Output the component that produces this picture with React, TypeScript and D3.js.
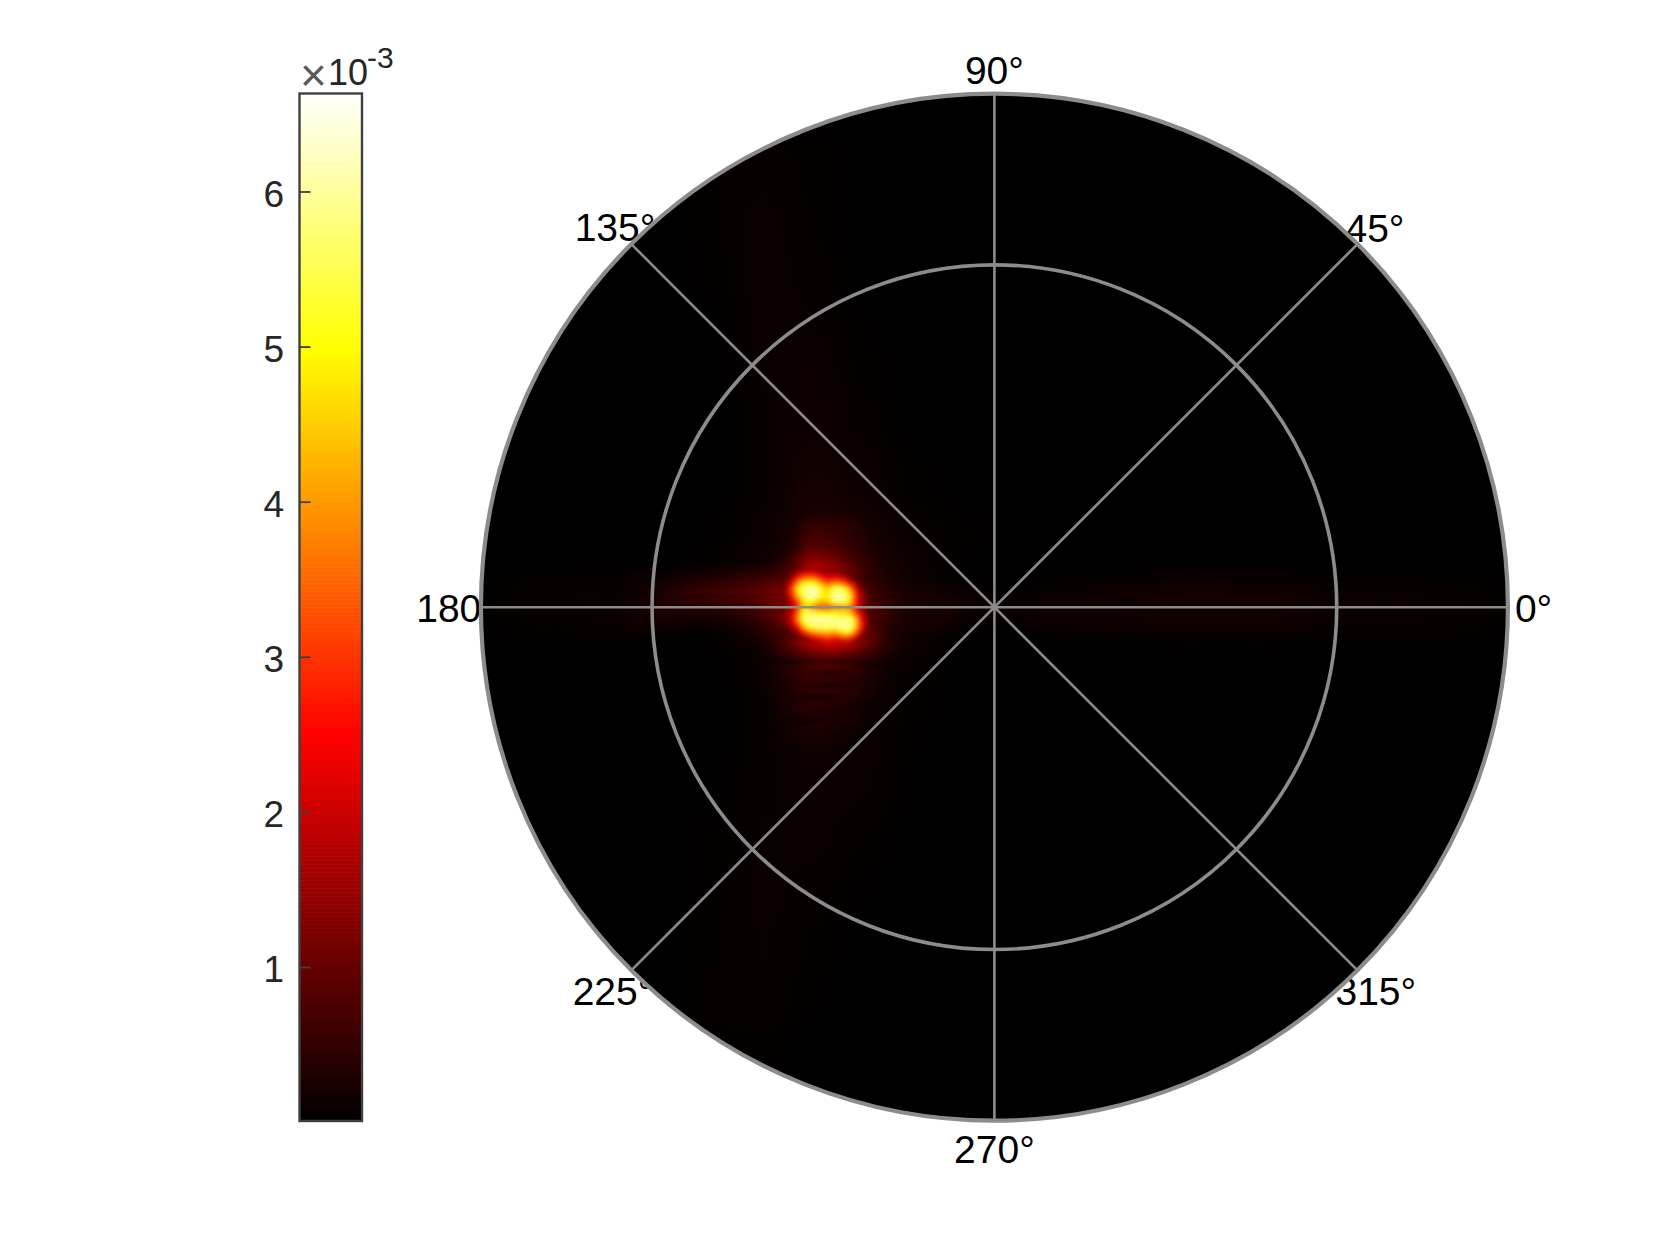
import * as d3 from "d3";

const V_MIN = 0.01;
const V_MAX = 6.635;
const CBAR_TICKS = [1, 2, 3, 4, 5, 6];
const THETA_TICKS = [0, 45, 90, 135, 180, 225, 270, 315];
const RHO_TICKS = [2 / 3, 1];

// intensity, in units of 1e-3
// whole disc, coarse
const wideField = [
  [0, 0, 0, 0, .02, .05, .02, 0, 0, 0, 0, 0, 0, 0, 0, 0, 0, 0, 0, 0],
  [0, 0, 0, 0, .05, .08, .04, 0, 0, 0, 0, 0, 0, 0, 0, 0, 0, 0, 0, 0],
  [0, 0, 0, 0, .05, .1, .05, 0, 0, 0, 0, 0, 0, 0, 0, 0, 0, 0, 0, 0],
  [0, 0, 0, 0, .03, .11, .07, 0, 0, 0, 0, 0, 0, 0, 0, 0, 0, 0, 0, 0],
  [0, 0, 0, 0, .01, .11, .09, .02, 0, 0, 0, 0, 0, 0, 0, 0, 0, 0, 0, 0],
  [0, 0, 0, 0, 0, .09, .12, .04, 0, 0, 0, 0, 0, 0, 0, 0, 0, 0, 0, 0],
  [0, 0, 0, 0, 0, .07, .15, .07, 0, 0, 0, 0, 0, 0, 0, 0, 0, 0, 0, 0],
  [0, 0, 0, 0, 0, .07, .2, .11, .03, 0, 0, 0, 0, 0, 0, 0, 0, 0, 0, 0],
  [0, 0, 0, 0, .02, .1, .3, .2, .07, .03, 0, 0, 0, 0, 0, 0, 0, 0, 0, 0],
  [0, 0, 0, 0, .06, .2, .5, .35, .12, 0, 0, 0, 0, 0, 0, 0, 0, 0, 0, 0],
  [0, 0, 0, 0, .03, .12, .4, .3, .1, 0, 0, 0, 0, 0, 0, 0, 0, 0, 0, 0],
  [0, 0, 0, 0, 0, .08, .2, .14, .05, 0, 0, 0, 0, 0, 0, 0, 0, 0, 0, 0],
  [0, 0, 0, 0, 0, .07, .14, .1, .02, 0, 0, 0, 0, 0, 0, 0, 0, 0, 0, 0],
  [0, 0, 0, 0, .01, .08, .12, .09, .01, 0, 0, 0, 0, 0, 0, 0, 0, 0, 0, 0],
  [0, 0, 0, 0, .03, .09, .1, .05, 0, 0, 0, 0, 0, 0, 0, 0, 0, 0, 0, 0],
  [0, 0, 0, 0, .04, .1, .07, .02, 0, 0, 0, 0, 0, 0, 0, 0, 0, 0, 0, 0],
  [0, 0, 0, 0, .05, .09, .05, 0, 0, 0, 0, 0, 0, 0, 0, 0, 0, 0, 0, 0],
  [0, 0, 0, 0, .06, .08, .03, 0, 0, 0, 0, 0, 0, 0, 0, 0, 0, 0, 0, 0],
  [0, 0, 0, .01, .05, .05, 0, 0, 0, 0, 0, 0, 0, 0, 0, 0, 0, 0, 0, 0],
  [0, 0, 0, 0, .02, .02, 0, 0, 0, 0, 0, 0, 0, 0, 0, 0, 0, 0, 0, 0],
];

// horizontal streak through the centre
const bandField = [
  [.02, .04, .06, .05, .08, .06, .09, .14, .22, .3, .4, .55, .8, .9, .9, .7, .4, .16, .1, .06, .02, 0, 0, .02, .04, .05, .06, .07, .08, .1, .1, .08, .08, .08, .06, .05, .05, .05, .05, .04, .04, .03, .02],
  [.03, .06, .08, .06, .1, .07, .12, .24, .42, .58, .7, .9, 1.2, 1, .9, .8, .5, .22, .18, .12, .06, .02, .03, .06, .08, .1, .14, .14, .16, .18, .18, .14, .15, .14, .11, .08, .1, .09, .09, .08, .07, .06, .04],
  [.04, .06, .09, .07, .1, .08, .15, .3, .42, .48, .58, .75, 1.1, 1.2, 1.1, .9, .6, .28, .22, .2, .12, .12, .1, .14, .12, .16, .14, .16, .2, .2, .22, .2, .2, .18, .15, .1, .12, .08, .12, .08, .1, .07, .04],
  [.03, .05, .08, .07, .1, .09, .18, .3, .26, .26, .36, .55, 1, 1.2, 1.2, 1, .7, .26, .25, .22, .08, .16, .14, .16, .14, .16, .16, .18, .2, .2, .2, .2, .18, .16, .14, .1, .12, .09, .12, .08, .1, .06, .04],
  [.02, .04, .06, .05, .08, .08, .14, .13, .07, .06, .14, .36, .8, 1, 1, .9, .5, .24, .2, .12, .04, .02, .04, .08, .1, .1, .12, .1, .12, .14, .13, .12, .14, .12, .1, .07, .1, .08, .09, .08, .08, .06, .04],
  [.01, .03, .04, .04, .05, .05, .06, .04, .02, .02, .08, .22, .5, .7, .7, .6, .35, .14, .1, .05, .01, 0, 0, .02, .04, .05, .06, .05, .06, .07, .06, .06, .07, .06, .05, .04, .05, .04, .05, .04, .04, .03, .02],
];

// streaks just above the hot spot
const aboveField = [
  [0, 0, .02, .1, .14, .1, .03, 0],
  [0, .01, .05, .2, .24, .18, .06, .01],
  [0, .02, .09, .32, .3, .28, .1, .03],
  [0, .03, .12, .45, .4, .36, .14, .05],
  [0, .05, .16, .55, .5, .42, .2, .07],
  [0, .05, .18, .62, .56, .4, .25, .08],
  [.01, .06, .2, .72, .62, .45, .26, .09],
  [.01, .07, .24, .85, .72, .5, .28, .1],
  [.02, .1, .3, 1, .85, .55, .3, .12],
  [.03, .14, .4, 1.3, 1.1, .65, .35, .14],
  [.05, .2, .6, 1.6, 1.4, .8, .4, .16],
  [.05, .2, .7, 1.7, 1.5, 1, .4, .16],
  [.05, .2, .7, 1.7, 1.5, 1, .4, .16],
];

// fringes just below the hot spot
const belowField = [
  [.1, .3, .8, 1.4, 1.6, 1.5, .9, .3],
  [.1, .3, .8, 1.4, 1.6, 1.5, .9, .3],
  [.1, .3, .8, 1.4, 1.6, 1.5, .9, .3],
  [.1, .3, .9, 1.7, 2, 1.7, .9, .3],
  [.08, .25, .7, 1.3, 1.6, 1.3, .7, .25],
  [.06, .22, .55, .95, 1.05, .9, .5, .2],
  [.04, .14, .2, .5, .55, .38, .32, .14],
  [.04, .2, .36, .72, .78, .6, .26, .09],
  [.03, .16, .36, .55, .3, .5, .3, .09],
  [.03, .14, .34, .58, .56, .42, .24, .07],
  [.03, .14, .32, .38, .2, .36, .24, .07],
  [.03, .14, .3, .52, .52, .38, .2, .05],
  [.02, .11, .26, .22, .24, .34, .2, .05],
  [.02, .11, .26, .42, .4, .24, .13, .03],
  [.02, .1, .24, .36, .36, .2, .09, .03],
  [.02, .09, .22, .34, .22, .26, .09, .02],
  [.02, .09, .12, .16, .26, .26, .08, .02],
  [0, .09, .18, .3, .3, .15, .06, 0],
  [0, .07, .18, .26, .16, .18, .05, 0],
  [0, .06, .15, .22, .22, .12, .03, 0],
  [0, .05, .12, .18, .16, .08, .02, 0],
  [0, .04, .08, .12, .12, .06, 0, 0],
  [0, .02, .05, .07, .06, .03, 0, 0],
];

// hot spot
const coreField = [
  [.5, .6, .7, .9, 1.1, 1.2, 1.3, 1.3, 1.2, 1.1, 1, .9, .8, .7, .5, .4, .3, .25, .2, .15],
  [.6, .7, 1, 1.6, 2, 2.3, 2.3, 2, 1.7, 1.5, 1.5, 1.4, 1.2, .9, .7, .5, .4, .3, .25, .15],
  [.7, .9, 1.6, 2.6, 3.2, 3.5, 3.5, 3.1, 2.6, 2.2, 2.3, 2.3, 2, 1.5, 1, .7, .5, .35, .25, .15],
  [.8, 1.3, 2.4, 3.9, 4.7, 5, 5, 4.6, 3.8, 3.2, 3.6, 3.8, 3.3, 2.7, 1.8, 1.1, .7, .45, .3, .2],
  [1, 1.7, 3.2, 4.8, 5.5, 5.8, 6, 5.6, 4.8, 4.3, 5.1, 5.4, 5.1, 4.4, 3.1, 1.7, 1, .6, .35, .2],
  [1.1, 1.8, 3.2, 4.7, 5.5, 5.9, 6.5, 5.9, 5, 4.7, 5.6, 6, 5.7, 5.3, 4, 2.2, 1.2, .8, .45, .25],
  [1, 1.6, 2.7, 4, 5.3, 5.7, 5.9, 5.5, 4.9, 4.8, 5.7, 6.3, 6, 5.5, 4.3, 2.5, 1.4, .9, .5, .3],
  [.9, 1.3, 2, 3, 4.5, 5, 5, 4.4, 4.1, 4.3, 5.2, 5.5, 5.5, 5.1, 3.8, 2.3, 1.4, .9, .5, .3],
  [.9, 1.3, 1.9, 3, 4.3, 4.6, 3.9, 3.4, 3.2, 3.2, 3.5, 3.7, 3.9, 3.9, 3.3, 2.1, 1.4, .9, .5, .25],
  [1, 1.4, 2.1, 3.5, 5, 5.5, 5.4, 5.1, 5, 4.9, 5, 4.9, 4.6, 4.6, 4, 2.7, 1.7, 1, .5, .25],
  [1.1, 1.5, 2.4, 3.9, 5.4, 5.9, 6, 6, 5.9, 5.9, 5.8, 5.7, 5.6, 5.6, 5.2, 3.6, 2.1, 1.1, .55, .25],
  [1, 1.4, 2.1, 3.4, 5, 5.7, 5.9, 5.9, 5.9, 5.9, 5.9, 5.9, 5.9, 5.9, 5.6, 4.1, 2.4, 1.2, .55, .25],
  [.7, 1, 1.5, 2.4, 3.9, 4.9, 5.3, 5.5, 5.6, 5.6, 5.5, 5.6, 5.9, 6, 5.5, 4, 2.3, 1.1, .5, .25],
  [.45, .7, 1, 1.5, 2.5, 3.3, 3.9, 4.2, 4.3, 4.4, 4.2, 4.3, 4.8, 5.1, 4.4, 3, 1.7, .8, .4, .2],
  [.3, .45, .6, .9, 1.3, 1.8, 2.3, 2.7, 2.9, 3.1, 2.9, 2.8, 3.2, 3.3, 2.8, 1.8, 1, .5, .3, .15],
  [.2, .3, .35, .55, .8, 1.1, 1.4, 1.6, 1.8, 2, 1.9, 1.7, 1.7, 1.7, 1.4, .9, .5, .3, .15, .1],
];

const CX = 994.4;
const CY = 607.2;
const R = 513.5;
const FONT = "'Liberation Sans', Arial, sans-serif";
const BAR = { left: 299.5, right: 362, top: 93.5, bottom: 1121 };

// MATLAB hot colormap
const hot = d3
  .scaleLinear<string>()
  .domain([0, V_MAX * 0.375, V_MAX * 0.75, V_MAX])
  .range(["#000000", "#ff0000", "#ffff00", "#ffffff"])
  .clamp(true);

const LAYERS = [
  { id: "wide", values: wideField, x: [CX - R, CX + R], y: [CY - R, CY + R], blur: "15 15" },
  { id: "band", values: bandField, x: [481, 1513], y: [572, 644], blur: "10 6" },
  { id: "above", values: aboveField, x: [740, 900], y: [500, 578], blur: "8 3" },
  { id: "below", values: belowField, x: [740, 900], y: [622, 760], blur: "8 2.4" },
  { id: "core", values: coreField, x: [780, 880], y: [565, 645], blur: "2.5 2.5" },
];

function FieldLayer({ id, values, x, y, blur }: any) {
  const xs = d3.scaleBand<number>().domain(d3.range(values[0].length)).range(x);
  const ys = d3.scaleBand<number>().domain(d3.range(values.length)).range(y);
  return (
    <g style={{ mixBlendMode: "lighten" }}>
      <filter
        id={`blur-${id}`}
        filterUnits="userSpaceOnUse"
        x={0}
        y={0}
        width={1680}
        height={1260}
        colorInterpolationFilters="sRGB"
      >
        <feGaussianBlur stdDeviation={blur} />
      </filter>
      <g filter={`url(#blur-${id})`}>
        {values.map((row: number[], j: number) =>
          row.map((v, i) =>
            v > 0 ? (
              <rect
                key={`${j}-${i}`}
                x={xs(i)}
                y={ys(j)}
                width={xs.bandwidth() + 0.5}
                height={ys.bandwidth() + 0.5}
                fill={hot(v)}
              />
            ) : null
          )
        )}
      </g>
    </g>
  );
}

function thetaLabel(deg: number) {
  // label anchors, matched per quadrant as the plot places them
  const [px, py] = d3.pointRadial(((90 - deg) * Math.PI) / 180, R);
  const x = CX + px;
  const y = CY + py;
  switch (deg) {
    case 0:
      return { x: x + 7, y: y + 15, anchor: "start" };
    case 45:
      return { x: x - 12, y: y - 2, anchor: "start" };
    case 90:
      return { x, y: y - 10, anchor: "middle" };
    case 135:
      return { x: x + 24, y: y - 3, anchor: "end" };
    case 180:
      return { x: x + 16, y: y + 15, anchor: "end" };
    case 225:
      return { x: x + 22, y: y + 35, anchor: "end" };
    case 270:
      return { x, y: y + 42, anchor: "middle" };
    default:
      return { x: x - 22, y: y + 35, anchor: "start" };
  }
}

export default function App() {
  const cbarY = d3.scaleLinear().domain([V_MIN, V_MAX]).range([BAR.bottom, BAR.top]);
  const cbarSteps = d3.range(256).map((i) => V_MIN + ((V_MAX - V_MIN) * i) / 256);
  const stepH = (BAR.bottom - BAR.top) / 256;

  return (
    <svg
      width={1680}
      height={1260}
      style={{ position: "absolute", left: 0, top: 0, display: "block", background: "#fff" }}
      fontFamily={FONT}
    >
      <defs>
        <clipPath id="disc">
          <circle cx={CX} cy={CY} r={R} />
        </clipPath>
      </defs>

      {/* colour bar */}
      {cbarSteps.map((v) => (
        <rect
          key={v}
          x={BAR.left}
          y={cbarY(v) - stepH}
          width={BAR.right - BAR.left}
          height={stepH + 0.6}
          fill={hot(v)}
        />
      ))}
      <rect
        x={BAR.left}
        y={BAR.top}
        width={BAR.right - BAR.left}
        height={BAR.bottom - BAR.top}
        fill="none"
        stroke="#404040"
        strokeWidth={2.4}
      />
      {CBAR_TICKS.map((t) => (
        <g key={t}>
          <line x1={BAR.left} x2={BAR.left + 11} y1={cbarY(t)} y2={cbarY(t)} stroke="#404040" strokeWidth={1.8} />
          <text x={284} y={cbarY(t) + 15} textAnchor="end" fontSize={37} fill="#262626">
            {t}
          </text>
        </g>
      ))}
      <text x={300} y={91} fontSize={46} fontWeight={300} fill="#595959">
        ×
      </text>
      <text x={328} y={85} fontSize={36} fill="#262626">
        10
      </text>
      <text x={367} y={68} fontSize={30} fill="#262626">
        -3
      </text>

      {/* polar image */}
      <g clipPath="url(#disc)" style={{ isolation: "isolate" }}>
        <rect x={CX - R} y={CY - R} width={2 * R} height={2 * R} fill="#000" />
        {LAYERS.map((l) => (
          <FieldLayer key={l.id} {...l} />
        ))}
      </g>

      {/* theta labels sit under the grid */}
      {THETA_TICKS.map((deg) => {
        const p = thetaLabel(deg);
        return (
          <text key={deg} x={p.x} y={p.y} textAnchor={p.anchor} fontSize={39} fill="#000">
            {`${deg}°`}
          </text>
        );
      })}

      {/* grid */}
      {THETA_TICKS.map((deg) => {
        const [px, py] = d3.pointRadial(((90 - deg) * Math.PI) / 180, R);
        return (
          <line key={deg} x1={CX} y1={CY} x2={CX + px} y2={CY + py} stroke="#8c8c8c" strokeWidth={2.6} />
        );
      })}
      {RHO_TICKS.map((r) => (
        <circle key={r} cx={CX} cy={CY} r={R * r} fill="none" stroke="#8c8c8c" strokeWidth={r === 1 ? 4.2 : 3.6} />
      ))}
    </svg>
  );
}
